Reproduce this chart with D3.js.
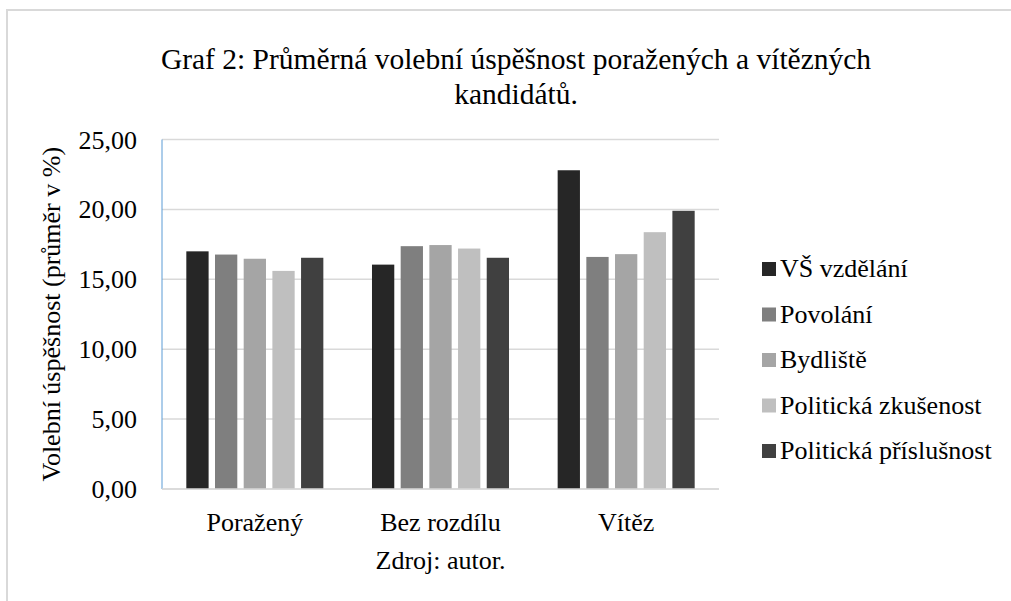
<!DOCTYPE html>
<html>
<head>
<meta charset="utf-8">
<script src="https://cdnjs.cloudflare.com/ajax/libs/d3/7.8.5/d3.min.js"></script>
<style>
    body { margin: 0; background: #fff; }
</style>
</head>
<body>
<div id="chart"></div>
<script>
// data
var categories = ["Poražený", "Bez rozdílu", "Vítěz"];
var seriesNames = ["VŠ vzdělání", "Povolání", "Bydliště", "Politická zkušenost", "Politická příslušnost"];
var vsVzdelani = [17.00, 16.05, 22.80];
var povolani = [16.77, 17.37, 16.60];
var bydliste = [16.47, 17.45, 16.80];
var polZkusenost = [15.60, 17.20, 18.37];
var polPrislusnost = [16.54, 16.54, 19.90];
var seriesColors = ["#262626", "#7f7f7f", "#a5a5a5", "#bfbfbf", "#404040"];
var yTicks = [0, 5, 10, 15, 20, 25];

var seriesValues = [vsVzdelani, povolani, bydliste, polZkusenost, polPrislusnost];

var width = 1011, height = 601;
var plot = {left: 162, right: 719, top: 139.5, bottom: 489};
var fontFamily = "'Liberation Serif', 'Times New Roman', 'DejaVu Serif', serif";

var svg = d3.select("#chart").append("svg")
    .attr("width", width)
    .attr("height", height)
    .attr("font-family", fontFamily);

// frame of the chart area
svg.append("path")
    .attr("d", "M" + (width + 5) + ",10H7V" + (height + 5))
    .attr("fill", "none")
    .attr("stroke", "#d9d9d9")
    .attr("stroke-width", 2);

var x0 = d3.scaleBand()
    .domain(categories)
    .range([plot.left, plot.right])
    .paddingInner(0.262)
    .paddingOuter(0.131);

var x1 = d3.scaleBand()
    .domain(seriesNames)
    .range([0, x0.bandwidth()])
    .paddingInner(0.223)
    .paddingOuter(0);

var y = d3.scaleLinear()
    .domain([0, 25])
    .range([plot.bottom, plot.top]);

// gridlines
svg.append("g")
    .selectAll("line")
    .data(yTicks)
    .enter().append("line")
    .attr("x1", plot.left)
    .attr("x2", plot.right)
    .attr("y1", function(d) { return y(d); })
    .attr("y2", function(d) { return y(d); })
    .attr("stroke", "#d9d9d9")
    .attr("stroke-width", 1.5);

// y tick labels
var yAxis = d3.axisLeft(y)
    .tickValues(yTicks)
    .tickSize(0)
    .tickPadding(25)
    .tickFormat(function(d) { return d3.format(".2f")(d).replace(".", ","); });

var yG = svg.append("g")
    .attr("transform", "translate(" + plot.left + ",0)")
    .call(yAxis)
    .attr("font-family", fontFamily)
    .attr("font-size", 26);
yG.select(".domain").remove();
yG.selectAll("text")
    .attr("fill", "#000")
    .attr("dy", "0.33em");

// selected-axis blue line
svg.append("line")
    .attr("x1", plot.left).attr("x2", plot.left)
    .attr("y1", plot.top).attr("y2", plot.bottom)
    .attr("stroke", "#5b9bd5")
    .attr("stroke-width", 1);

// bars
var groups = svg.append("g")
    .selectAll("g")
    .data(categories)
    .enter().append("g")
    .attr("transform", function(d) { return "translate(" + x0(d) + ",0)"; });

groups.selectAll("rect")
    .data(function(d, i) {
        return seriesNames.map(function(s, j) {
            return {series: s, value: seriesValues[j][i], color: seriesColors[j]};
        });
    })
    .enter().append("rect")
    .attr("x", function(d) { return x1(d.series); })
    .attr("width", x1.bandwidth())
    .attr("y", function(d) { return y(d.value); })
    .attr("height", function(d) { return y(0) - y(d.value); })
    .attr("fill", function(d) { return d.color; });

// x axis line and labels
var xAxis = d3.axisBottom(x0)
    .tickSize(0)
    .tickPadding(24);

var xG = svg.append("g")
    .attr("transform", "translate(0," + plot.bottom + ")")
    .call(xAxis)
    .attr("font-family", fontFamily)
    .attr("font-size", 26);
xG.select(".domain")
    .attr("stroke", "#d9d9d9")
    .attr("stroke-width", 1.5)
    .attr("d", "M" + plot.left + ",0H" + plot.right);
xG.selectAll("text")
    .attr("fill", "#000");

svg.append("text")
    .attr("x", (plot.left + plot.right) / 2)
    .attr("y", 569)
    .attr("text-anchor", "middle")
    .attr("font-size", 26)
    .text("Zdroj: autor.");

// y axis title
svg.append("text")
    .attr("transform", "translate(60," + ((plot.top + plot.bottom) / 2) + ") rotate(-90)")
    .attr("text-anchor", "middle")
    .attr("font-size", 26)
    .text("Volební úspěšnost (průměr v %)");

// title
var title = svg.append("text")
    .attr("text-anchor", "middle")
    .attr("font-size", 29.5);
title.append("tspan").attr("x", 516).attr("y", 69)
    .text("Graf 2: Průměrná volební úspěšnost poražených a vítězných");
title.append("tspan").attr("x", 516).attr("y", 104)
    .text("kandidátů.");

// legend
var legend = svg.append("g")
    .selectAll("g")
    .data(seriesNames)
    .enter().append("g")
    .attr("transform", function(d, i) { return "translate(762," + (269 + i * 45.5) + ")"; });

legend.append("rect")
    .attr("x", 0)
    .attr("y", -7)
    .attr("width", 14)
    .attr("height", 14)
    .attr("fill", function(d, i) { return seriesColors[i]; });

legend.append("text")
    .attr("x", 18)
    .attr("y", 8)
    .attr("font-size", 26)
    .text(function(d) { return d; });
</script>
</body>
</html>
